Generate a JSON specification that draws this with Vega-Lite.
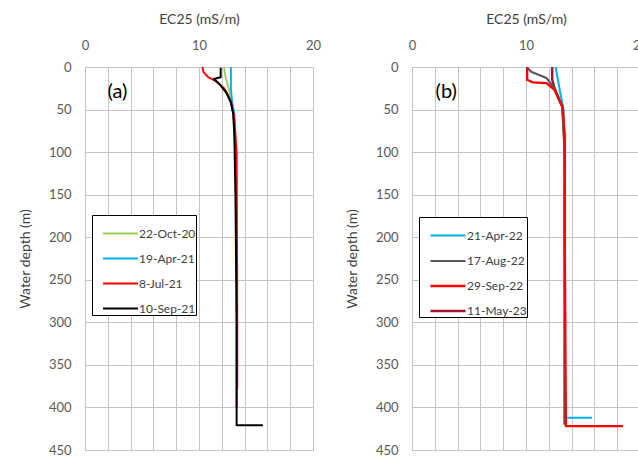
{
  "$schema": "https://vega.github.io/schema/vega-lite/v6.json",
  "padding": {"left": 17, "top": 11, "right": 0, "bottom": 0},
  "spacing": 22,
  "config": {
    "font": "Lato",
    "view": {"stroke": "#808080", "strokeWidth": 1},
    "axis": {
      "labelFont": "Lato", "labelFontSize": 13, "labelColor": "#595959",
      "titleFont": "Lato", "titleFontSize": 14, "titleFontWeight": "normal", "titleColor": "#404040",
      "gridColor": "#c4c4c4", "gridWidth": 1, "ticks": false, "domain": false, "labelOverlap": false
    },
    "legend": {
      "orient": "none", "legendX": 7, "legendY": 148,
      "strokeColor": "#000000", "fillColor": "#ffffff", "padding": 0,
      "symbolType": "stroke", "symbolSize": 1225, "symbolOffset": 10,
      "rowPadding": -2, "labelOffset": 0, "labelFont": "Lato", "labelFontSize": 12,
      "labelColor": "#404040", "title": null, "symbolStrokeWidth": 2
    }
  },
  "datasets": {
    "a": [
      {"series": "22-Oct-20", "i": 0, "ec": 12.2, "depth": 0},
      {"series": "22-Oct-20", "i": 1, "ec": 12.3, "depth": 10},
      {"series": "22-Oct-20", "i": 2, "ec": 12.6, "depth": 25},
      {"series": "22-Oct-20", "i": 3, "ec": 12.9, "depth": 45},
      {"series": "22-Oct-20", "i": 4, "ec": 13.1, "depth": 70},
      {"series": "22-Oct-20", "i": 5, "ec": 13.2, "depth": 130},
      {"series": "22-Oct-20", "i": 6, "ec": 13.3, "depth": 250},
      {"series": "22-Oct-20", "i": 7, "ec": 13.3, "depth": 400},
      {"series": "19-Apr-21", "i": 0, "ec": 12.8, "depth": 0},
      {"series": "19-Apr-21", "i": 1, "ec": 12.8, "depth": 25},
      {"series": "19-Apr-21", "i": 2, "ec": 12.9, "depth": 40},
      {"series": "19-Apr-21", "i": 3, "ec": 13.1, "depth": 55},
      {"series": "19-Apr-21", "i": 4, "ec": 13.2, "depth": 100},
      {"series": "19-Apr-21", "i": 5, "ec": 13.3, "depth": 250},
      {"series": "19-Apr-21", "i": 6, "ec": 13.3, "depth": 400},
      {"series": "8-Jul-21", "i": 0, "ec": 10.3, "depth": 0},
      {"series": "8-Jul-21", "i": 1, "ec": 10.4, "depth": 6},
      {"series": "8-Jul-21", "i": 2, "ec": 10.8, "depth": 12},
      {"series": "8-Jul-21", "i": 3, "ec": 11.4, "depth": 16},
      {"series": "8-Jul-21", "i": 4, "ec": 12.2, "depth": 25},
      {"series": "8-Jul-21", "i": 5, "ec": 12.8, "depth": 40},
      {"series": "8-Jul-21", "i": 6, "ec": 13.1, "depth": 60},
      {"series": "8-Jul-21", "i": 7, "ec": 13.3, "depth": 100},
      {"series": "8-Jul-21", "i": 8, "ec": 13.35, "depth": 250},
      {"series": "8-Jul-21", "i": 9, "ec": 13.35, "depth": 378},
      {"series": "10-Sep-21", "i": 0, "ec": 11.9, "depth": 1},
      {"series": "10-Sep-21", "i": 1, "ec": 11.9, "depth": 12},
      {"series": "10-Sep-21", "i": 2, "ec": 11.3, "depth": 14},
      {"series": "10-Sep-21", "i": 3, "ec": 11.8, "depth": 20},
      {"series": "10-Sep-21", "i": 4, "ec": 12.4, "depth": 30},
      {"series": "10-Sep-21", "i": 5, "ec": 12.8, "depth": 42},
      {"series": "10-Sep-21", "i": 6, "ec": 13.0, "depth": 55},
      {"series": "10-Sep-21", "i": 7, "ec": 13.1, "depth": 80},
      {"series": "10-Sep-21", "i": 8, "ec": 13.2, "depth": 150},
      {"series": "10-Sep-21", "i": 9, "ec": 13.3, "depth": 300},
      {"series": "10-Sep-21", "i": 10, "ec": 13.3, "depth": 421},
      {"series": "10-Sep-21", "i": 11, "ec": 15.6, "depth": 421}
    ],
    "b": [
      {"series": "11-May-23", "i": 0, "ec": 12.3, "depth": 0},
      {"series": "11-May-23", "i": 1, "ec": 12.3, "depth": 15},
      {"series": "11-May-23", "i": 2, "ec": 12.5, "depth": 25},
      {"series": "11-May-23", "i": 3, "ec": 13.2, "depth": 47},
      {"series": "11-May-23", "i": 4, "ec": 13.4, "depth": 100},
      {"series": "11-May-23", "i": 5, "ec": 13.4, "depth": 300},
      {"series": "11-May-23", "i": 6, "ec": 13.4, "depth": 420},
      {"series": "21-Apr-22", "i": 0, "ec": 12.6, "depth": 0},
      {"series": "21-Apr-22", "i": 1, "ec": 12.8, "depth": 15},
      {"series": "21-Apr-22", "i": 2, "ec": 13.0, "depth": 30},
      {"series": "21-Apr-22", "i": 3, "ec": 13.3, "depth": 50},
      {"series": "21-Apr-22", "i": 4, "ec": 13.4, "depth": 150},
      {"series": "21-Apr-22", "i": 5, "ec": 13.4, "depth": 412},
      {"series": "21-Apr-22", "i": 6, "ec": 15.8, "depth": 412},
      {"series": "17-Aug-22", "i": 0, "ec": 10.1, "depth": 1},
      {"series": "17-Aug-22", "i": 1, "ec": 10.5, "depth": 6},
      {"series": "17-Aug-22", "i": 2, "ec": 11.8, "depth": 13},
      {"series": "17-Aug-22", "i": 3, "ec": 12.5, "depth": 25},
      {"series": "17-Aug-22", "i": 4, "ec": 13.2, "depth": 47},
      {"series": "17-Aug-22", "i": 5, "ec": 13.4, "depth": 100},
      {"series": "17-Aug-22", "i": 6, "ec": 13.4, "depth": 300},
      {"series": "17-Aug-22", "i": 7, "ec": 13.4, "depth": 420},
      {"series": "29-Sep-22", "i": 0, "ec": 10.1, "depth": 0},
      {"series": "29-Sep-22", "i": 1, "ec": 10.1, "depth": 15},
      {"series": "29-Sep-22", "i": 2, "ec": 10.6, "depth": 18},
      {"series": "29-Sep-22", "i": 3, "ec": 11.8, "depth": 19},
      {"series": "29-Sep-22", "i": 4, "ec": 12.5, "depth": 27},
      {"series": "29-Sep-22", "i": 5, "ec": 13.2, "depth": 47},
      {"series": "29-Sep-22", "i": 6, "ec": 13.4, "depth": 80},
      {"series": "29-Sep-22", "i": 7, "ec": 13.4, "depth": 200},
      {"series": "29-Sep-22", "i": 8, "ec": 13.5, "depth": 422},
      {"series": "29-Sep-22", "i": 9, "ec": 18.5, "depth": 422}
    ],
    "labA": [{"label": "(a)", "ec": 2.85, "depth": 29}],
    "labB": [{"label": "(b)", "ec": 3.0, "depth": 29}]
  },
  "hconcat": [
    {
      "width": 228, "height": 383,
      "encoding": {
        "x": {"field": "ec", "type": "quantitative", "title": "EC25 (mS/m)",
          "scale": {"domain": [0, 20], "nice": false},
          "axis": {"orient": "top", "values": [0,2,4,6,8,10,12,14,16,18,20], "labelExpr": "(datum.value == 0 || datum.value == 10 || datum.value == 20) ? datum.label : ''", "labelOverlap": false, "labelPadding": 15, "titlePadding": 13, "labelFlush": false}},
        "y": {"field": "depth", "type": "quantitative", "title": "Water depth (m)",
          "scale": {"domain": [0, 450], "nice": false, "reverse": true},
          "axis": {"values": [0,50,100,150,200,250,300,350,400,450], "labelOverlap": false, "labelPadding": 14, "titlePadding": 16}}
      },
      "layer": [
        {
          "data": {"name": "a"},
          "mark": {"type": "line", "strokeJoin": "round"},
          "encoding": {
            "color": {"field": "series", "type": "nominal",
              "scale": {"domain": ["22-Oct-20", "19-Apr-21", "8-Jul-21", "10-Sep-21"], "range": ["#92D050", "#00B0F0", "#FF0000", "#000000"]},
              "legend": {"orient": "none", "legendX": 7, "legendY": 148}},
            "strokeWidth": {"field": "series", "type": "nominal",
              "scale": {"domain": ["22-Oct-20", "19-Apr-21", "8-Jul-21", "10-Sep-21"], "range": [1.8, 2, 2, 2.2]},
              "legend": {"orient": "none", "legendX": 7, "legendY": 148}},
            "order": {"field": "i", "type": "quantitative"}
          }
        },
        {
          "data": {"name": "labA"},
          "mark": {"type": "text", "fontSize": 20, "font": "Lato", "color": "#000000"},
          "encoding": {
            "text": {"field": "label"}
          }
        }
      ]
    },
    {
      "width": 228, "height": 383,
      "encoding": {
        "x": {"field": "ec", "type": "quantitative", "title": "EC25 (mS/m)",
          "scale": {"domain": [0, 20], "nice": false},
          "axis": {"orient": "top", "values": [0,2,4,6,8,10,12,14,16,18,20], "labelExpr": "(datum.value == 0 || datum.value == 10 || datum.value == 20) ? datum.label : ''", "labelOverlap": false, "labelPadding": 15, "titlePadding": 13, "labelFlush": false}},
        "y": {"field": "depth", "type": "quantitative", "title": "Water depth (m)",
          "scale": {"domain": [0, 450], "nice": false, "reverse": true},
          "axis": {"values": [0,50,100,150,200,250,300,350,400,450], "labelOverlap": false, "labelPadding": 14, "titlePadding": 16}}
      },
      "layer": [
        {
          "data": {"name": "b"},
          "mark": {"type": "line", "strokeJoin": "round"},
          "encoding": {
            "color": {"field": "series", "type": "nominal",
              "scale": {"domain": ["21-Apr-22", "17-Aug-22", "29-Sep-22", "11-May-23"], "range": ["#00B0F0", "#595959", "#FF0000", "#A0182B"]},
              "legend": {"orient": "none", "legendX": 7, "legendY": 150}},
            "strokeWidth": {"field": "series", "type": "nominal",
              "scale": {"domain": ["21-Apr-22", "17-Aug-22", "29-Sep-22", "11-May-23"], "range": [2, 2.5, 4.5, 1.5]},
              "legend": {"orient": "none", "legendX": 7, "legendY": 150}},
            "order": {"field": "i", "type": "quantitative"}
          }
        },
        {
          "data": {"name": "labB"},
          "mark": {"type": "text", "fontSize": 20, "font": "Lato", "color": "#000000"},
          "encoding": {
            "text": {"field": "label"}
          }
        }
      ]
    }
  ],
  "resolve": {"scale": {"color": "independent", "strokeWidth": "independent"}}
}
